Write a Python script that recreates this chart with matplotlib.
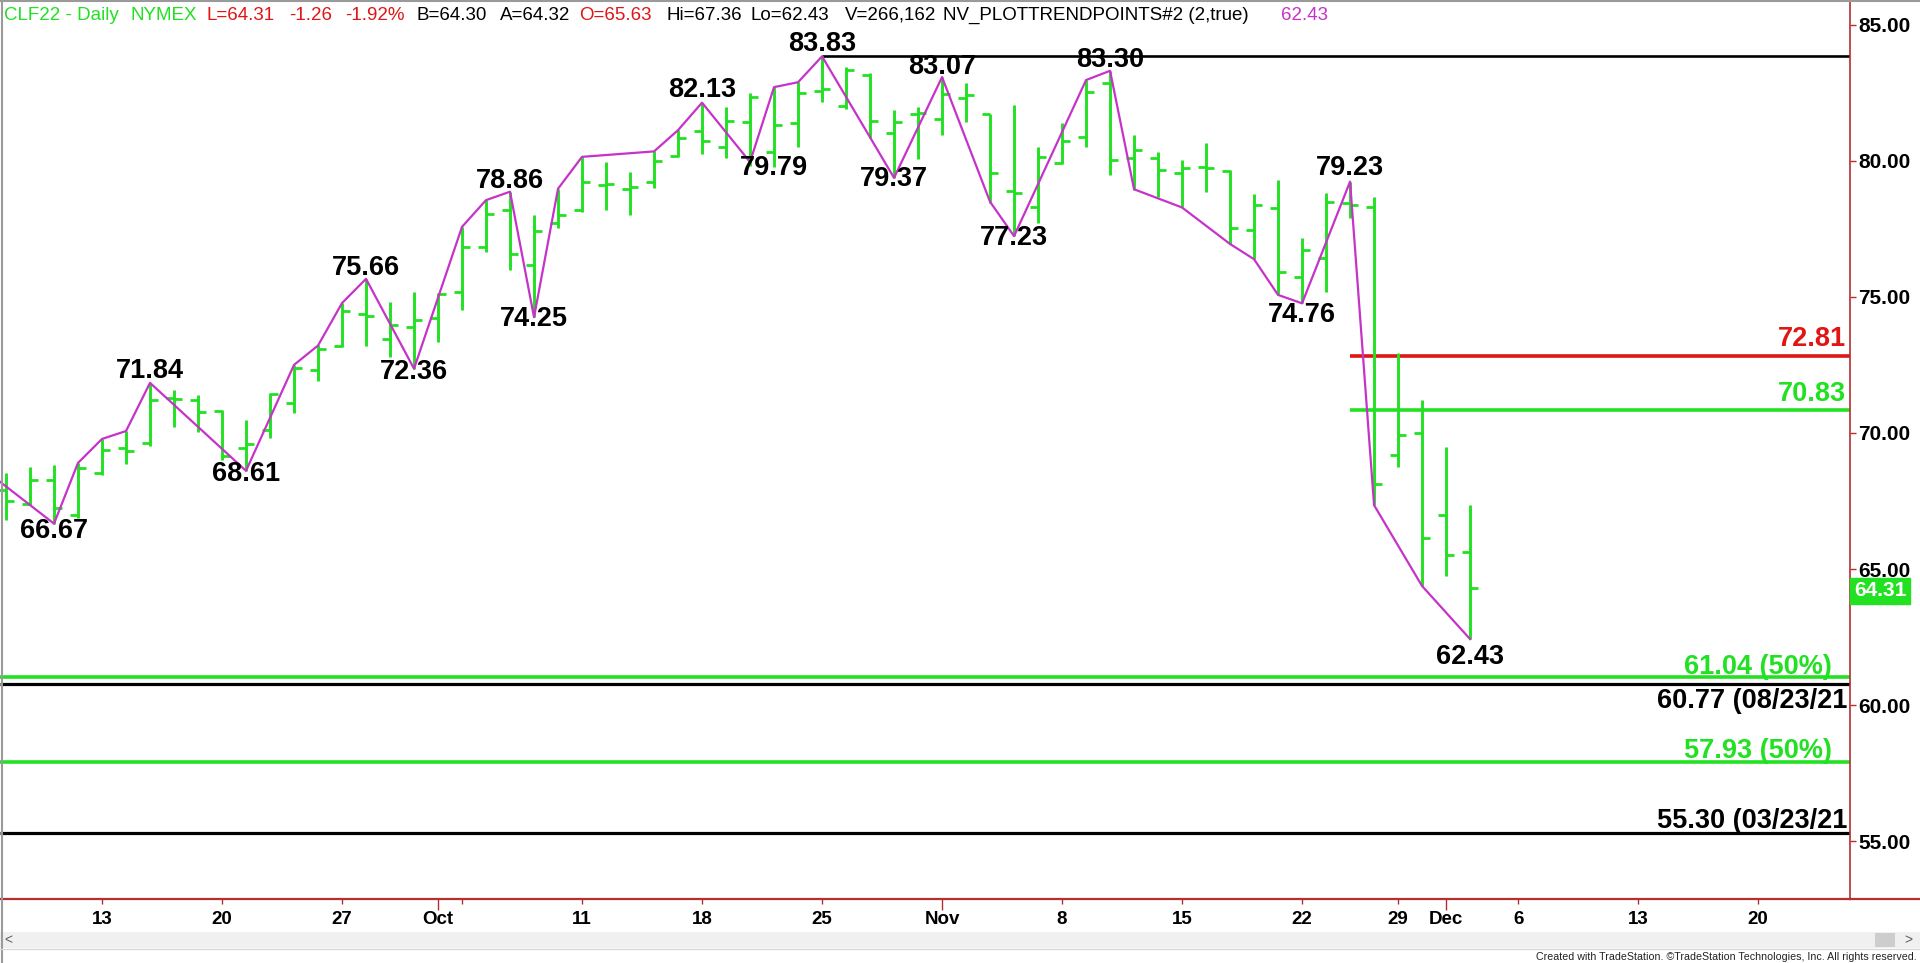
import matplotlib
matplotlib.use('Agg')
import matplotlib.pyplot as plt
from matplotlib.patches import Rectangle
from matplotlib.lines import Line2D
import matplotlib.transforms as mtransforms

plt.rcParams['font.family'] = ['Liberation Sans', 'DejaVu Sans']

W, H, DPI = 1920, 963, 100

# ---------------- data ----------------
# daily OHLC bars, Sept 7 2021 .. Dec 2 2021 (trading-day index 0..61)
opens = [67.90, 67.40, 68.27, 66.99, 68.53, 69.45, 69.63, 71.30, 71.21, 70.80,
         69.45, 70.11, 71.10, 72.31, 73.19, 74.36, 73.45, 73.89, 74.22, 75.17,
         76.83, 78.19, 76.17, 77.70, 78.19, 79.10, 78.95, 79.22, 80.17, 81.09,
         80.50, 81.43, 80.30, 81.38, 82.55, 82.00, 83.14, 81.01, 81.70, 81.53,
         82.30, 81.72, 78.90, 78.29, 79.91, 80.87, 82.85, 80.09, 80.09, 79.55,
         79.77, 79.62, 77.45, 78.26, 75.73, 76.42, 78.44, 78.30, 69.19, 70.00,
         66.99, 65.63]
highs = [68.53, 68.75, 68.82, 68.90, 69.78, 70.07, 71.84, 71.58, 71.40, 70.84,
         70.48, 71.47, 72.50, 73.23, 74.77, 75.66, 74.81, 75.17, 75.13, 77.57,
         78.55, 78.86, 78.00, 78.97, 80.14, 79.95, 79.58, 80.34, 81.12, 82.13,
         81.97, 82.48, 82.70, 82.88, 83.83, 83.44, 83.22, 81.86, 81.97, 83.07,
         82.85, 81.72, 82.05, 80.50, 81.38, 82.96, 83.30, 80.94, 80.32, 80.02,
         80.65, 79.65, 78.77, 79.29, 77.16, 78.81, 79.23, 78.66, 72.94, 71.21,
         69.48, 67.36]
lows = [66.80, 67.35, 66.67, 66.88, 68.46, 68.86, 69.52, 70.22, 70.04, 69.00,
        68.61, 69.82, 70.73, 71.91, 73.15, 73.19, 72.79, 72.36, 73.34, 74.51,
        76.65, 75.98, 74.25, 77.53, 78.11, 78.19, 78.00, 79.00, 80.13, 80.24,
        80.10, 79.79, 79.77, 80.50, 82.15, 81.90, 80.83, 79.37, 80.06, 80.94,
        81.42, 78.45, 77.23, 77.71, 79.87, 80.50, 79.48, 78.92, 78.66, 78.28,
        78.85, 76.94, 76.38, 75.07, 74.76, 75.18, 77.89, 67.35, 68.76, 64.38,
        64.74, 62.43]
closes = [67.50, 68.27, 67.25, 68.72, 69.37, 69.33, 71.21, 71.25, 70.77, 69.15,
          69.60, 71.42, 72.39, 73.08, 74.47, 74.29, 73.96, 74.15, 75.10, 76.83,
          78.04, 76.57, 77.42, 78.00, 79.22, 79.15, 79.05, 79.99, 80.83, 80.72,
          81.45, 82.35, 81.31, 82.48, 82.62, 83.33, 81.45, 81.42, 81.75, 82.45,
          82.41, 79.55, 78.80, 80.13, 80.72, 82.52, 80.02, 80.39, 79.65, 79.73,
          79.73, 77.53, 78.37, 75.91, 76.72, 78.48, 78.37, 68.13, 69.93, 66.14,
          65.52, 64.31]

# trend-point (zigzag) line vertices: bar index, price
zig_idx = [-1, 2, 3, 4, 5, 6, 10, 12, 13, 14, 15, 17, 19, 20, 21, 22, 23, 24,
           27, 28, 29, 31, 32, 33, 34, 37, 39, 41, 42, 45, 46, 47, 49, 51, 52,
           53, 54, 56, 57, 59, 61]
zig_px = [68.72, 66.67, 68.90, 69.78, 70.07, 71.84, 68.61, 72.50, 73.21, 74.77,
          75.66, 72.36, 77.57, 78.55, 78.86, 74.25, 78.97, 80.14, 80.34, 81.12,
          82.13, 79.95, 82.70, 82.88, 83.83, 79.37, 83.07, 78.49, 77.23, 82.96,
          83.30, 78.95, 78.28, 76.94, 76.38, 75.07, 74.76, 79.23, 67.35, 64.38,
          62.43]

# labelled trend points
pivot_idx = [2, 6, 10, 15, 17, 21, 22, 29, 31, 34, 37, 39, 42, 46, 54, 56, 61]
pivot_val = [66.67, 71.84, 68.61, 75.66, 72.36, 78.86, 74.25, 82.13, 79.79,
             83.83, 79.37, 83.07, 77.23, 83.30, 74.76, 79.23, 62.43]
pivot_kind = ['L', 'H', 'L', 'H', 'L', 'H', 'L', 'H', 'L',
              'H', 'L', 'H', 'L', 'H', 'L', 'H', 'L']

# horizontal levels
level_vals = [83.83, 72.81, 70.83, 61.04, 60.77, 57.93, 55.30]
level_from = [34, 56, 56, None, None, None, None]
level_text = [None, '72.81', '70.83', '61.04 (50%)', '60.77 (08/23/21',
              '57.93 (50%)', '55.30 (03/23/21']

# x axis ticks (trading-day index)
week_pos = [4, 9, 14, 19, 24, 29, 34, 44, 49, 54, 58, 63, 68, 73]
week_lab = ['13', '20', '27', '', '11', '18', '25', '8', '15', '22', '29',
            '6', '13', '20']
month_pos = [18, 39, 60]
month_lab = ['Oct', 'Nov', 'Dec']
y_ticks = [55, 60, 65, 70, 75, 80, 85]
last_price = 64.31

# ---------------- style ----------------
GREEN = '#22e022'
RED = '#e01515'
MAG = '#c633c8'
AXRED = '#b23030'
PT = 72.0 / DPI  # points per pixel

fig = plt.figure(figsize=(W / DPI, H / DPI), dpi=DPI)
fig.patch.set_facecolor('white')
ax = fig.add_axes([0, 64 / H, 1850 / W, 899 / H])
ax.set_xlim(-0.25, 76.83)
ax.set_ylim(52.885, 85.90)
ax.set_facecolor('white')

# bars
xs = list(range(len(opens)))
ax.vlines(xs, lows, highs, color=GREEN, lw=2.1, zorder=3)
ax.hlines(opens, [x - 0.32 for x in xs], xs, color=GREEN, lw=2.0, zorder=3)
ax.hlines(closes, xs, [x + 0.32 for x in xs], color=GREEN, lw=2.0, zorder=3)

# zigzag
ax.plot(zig_idx, zig_px, color=MAG, lw=1.6, zorder=4)

# levels
level_colors = ['black', RED, GREEN, GREEN, 'black', GREEN, 'black']
level_lw = [1.9, 2.6, 2.6, 2.6, 2.3, 2.6, 2.3]
xr = ax.get_xlim()[1]
for v, f, c, lw in zip(level_vals, level_from, level_colors, level_lw):
    x0 = ax.get_xlim()[0] if f is None else f
    ax.plot([x0, xr], [v, v], color=c, lw=lw, zorder=2, solid_capstyle='butt')

# level labels (right aligned near right axis)
trans_r = mtransforms.blended_transform_factory(ax.transAxes, ax.transData)
right_px = [None, 1846, 1846, 1832, 1847, 1832, 1847]
offs_px = [None, 10, 9, 3, -4, 4, 5]
for v, t, c, rp, op in zip(level_vals, level_text, level_colors, right_px, offs_px):
    if t is None:
        continue
    va = 'baseline' if op > 0 else 'top'
    ax.annotate(t, (rp / 1850, v), xycoords=trans_r,
                xytext=(0, op * PT), textcoords='offset points',
                ha='right', va=va, fontsize=19.5, fontweight='bold', color=c,
                zorder=6)

# pivot labels (vertical pixel offsets tuned per label)
pivot_dy = [6, 5, 10, 4, 10, 4, 11, 6, 11, 5, 12, 3, 11, 4, 1, 7, -5]
for px, v, k, dy in zip(pivot_idx, pivot_val, pivot_kind, pivot_dy):
    lx = px + (1.0 if v == 79.79 else 0.0)
    ax.annotate(f'{v:.2f}', (lx, v), xytext=(0, dy * PT),
                textcoords='offset points', ha='center',
                va='baseline' if k == 'H' else 'top',
                fontsize=19.5, fontweight='bold', color='black', zorder=6)

# axes styling
for s in ['left', 'top']:
    ax.spines[s].set_visible(False)
ax.spines['right'].set_color(AXRED)
ax.spines['bottom'].set_color(AXRED)
ax.spines['right'].set_linewidth(1.2)
ax.spines['bottom'].set_linewidth(1.6)

ax.yaxis.tick_right()
ax.set_yticks(y_ticks)
ax.set_yticklabels([f'{t:.2f}' for t in y_ticks])
ax.tick_params(axis='y', which='major', length=6 * PT, width=1.0, color=AXRED,
               pad=2 * PT, labelsize=15, labelcolor='black')
for lab in ax.get_yticklabels():
    lab.set_fontweight('bold')

ax.set_xticks(month_pos)
ax.set_xticklabels(month_lab)
ax.set_xticks(week_pos, minor=True)
ax.set_xticklabels(week_lab, minor=True)
ax.tick_params(axis='x', which='major', length=11 * PT, width=1.0, color=AXRED,
               pad=1 * PT, labelsize=13.5)
ax.tick_params(axis='x', which='minor', length=5 * PT, width=1.0, color=AXRED,
               pad=7 * PT, labelsize=13.5)
for lab in ax.get_xticklabels() + ax.get_xticklabels(minor=True):
    lab.set_fontweight('bold')

# last price marker
ax.annotate(f'{last_price:.2f}', (1.0, last_price), xycoords=trans_r,
            xytext=(4 * PT, -3 * PT), textcoords='offset points', ha='left',
            va='center', fontsize=15, fontweight='bold', color='white',
            annotation_clip=False, zorder=8,
            bbox=dict(boxstyle='square,pad=0.18', fc=GREEN, ec=GREEN))

# bottom axis continuing under price scale
fig.add_artist(Line2D([1850 / W, 1.0], [1 - 899 / H, 1 - 899 / H],
                      color=AXRED, lw=1.6, transform=fig.transFigure))

# borders
fig.add_artist(Line2D([0.0008, 0.0008], [0, 1], color='#9a9a9a', lw=1.5,
                      transform=fig.transFigure))
fig.add_artist(Line2D([0, 1], [0.9992, 0.9992], color='#9a9a9a', lw=1.5,
                      transform=fig.transFigure))

# scrollbar
def fx(p):
    return p / W

def fy(p):
    return 1 - p / H

fig.add_artist(Rectangle((0, fy(948)), 1, 16 / H, transform=fig.transFigure,
                         fc='#f0f0f0', ec='none', zorder=1))
fig.add_artist(Line2D([0, 1], [fy(949), fy(949)], color='#d8d8d8', lw=1,
                      transform=fig.transFigure))
fig.add_artist(Rectangle((fx(1875), fy(947)), 20 / W, 14 / H,
                         transform=fig.transFigure, fc='#cdcdcd', ec='none'))
fig.text(fx(8), fy(940), '<', fontsize=10, color='#606060', ha='center',
         va='center')
fig.text(fx(1908), fy(940), '>', fontsize=10, color='#606060', ha='center',
         va='center')
fig.text(fx(1917), fy(957), 'Created with TradeStation. \u00a9TradeStation '
         'Technologies, Inc. All rights reserved.', fontsize=7.7,
         color='#222222', ha='right', va='center')

# header
header = [
    (4, 'CLF22 - Daily', GREEN), (130, 'NYMEX', GREEN),
    (207, 'L=64.31', RED), (289, '-1.26', RED), (345, '-1.92%', RED),
    (417, 'B=64.30', 'black'), (500, 'A=64.32', 'black'),
    (579, 'O=65.63', RED), (667, 'Hi=67.36', 'black'),
    (751, 'Lo=62.43', 'black'), (845, 'V=266,162', 'black'),
    (943, 'NV_PLOTTRENDPOINTS#2 (2,true)', 'black'), (1281, '62.43', MAG),
]
for x, t, c in header:
    fig.text(fx(x), fy(15), t, fontsize=13.5, color=c, ha='left', va='center')

fig.savefig('out.png', dpi=DPI)
